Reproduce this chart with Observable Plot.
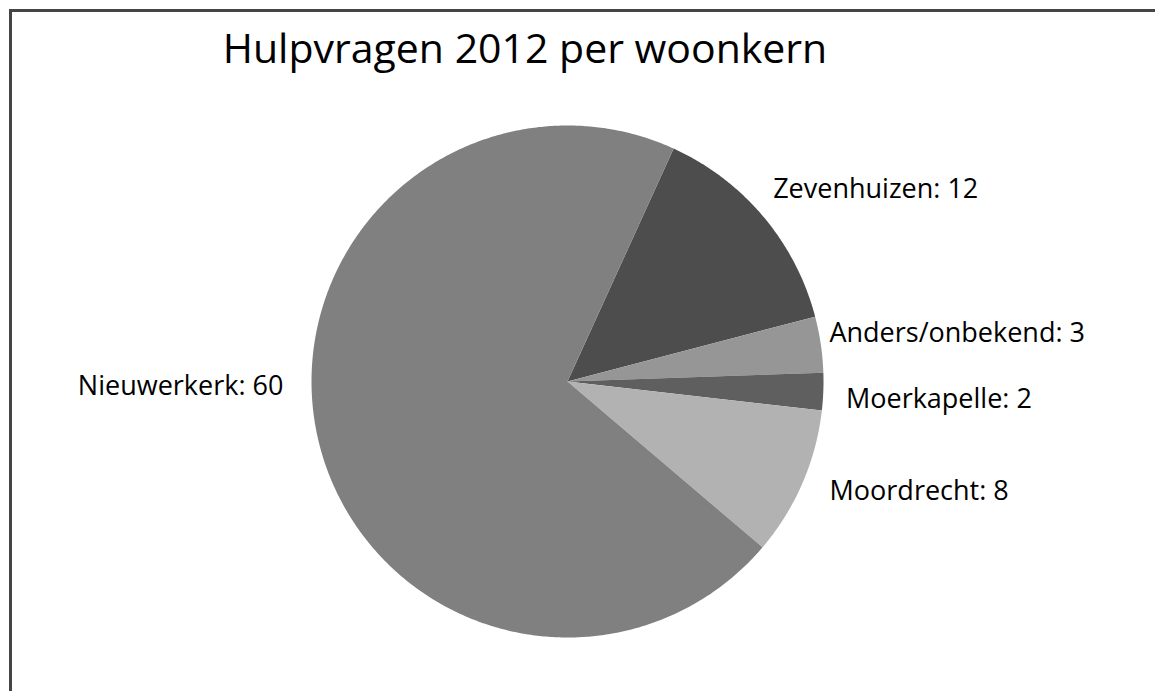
<!DOCTYPE html>
<html><head><meta charset="utf-8">
<script src="https://cdn.jsdelivr.net/npm/d3@7"></script>
<script src="https://cdn.jsdelivr.net/npm/@observablehq/plot@0.6"></script>
<style>
html,body{margin:0;padding:0;background:#fff;overflow:hidden;width:1155px;height:691px}
#wrap{position:relative;width:1155px;height:691px;overflow:hidden}
#btop{position:absolute;left:9px;top:9px;width:1146px;height:3px;background:#454545}
#bleft{position:absolute;left:9px;top:9px;width:3px;height:682px;background:#454545}
#title{position:absolute;left:0;top:19px;width:1050px;text-align:center;font-family:"Open Sans",sans-serif;font-size:41px;line-height:normal;color:#000;white-space:nowrap}
#chart{position:absolute;left:0;top:0}
</style></head>
<body>
<div id="wrap">
  <div id="btop"></div>
  <div id="bleft"></div>
  <div id="chart"></div>
  <div id="title">Hulpvragen 2012 per woonkern</div>
</div>
<script>
// Data (clockwise drawing order)
const names = ["Zevenhuizen", "Anders/onbekend", "Moerkapelle", "Moordrecht", "Nieuwerkerk"];
const values = [12, 3, 2, 8, 60];
const colors = ["#4d4d4d", "#969696", "#5f5f5f", "#b2b2b2", "#808080"];

// Layout / style
const startDeg = 24.5;
const labelLayout = {
  "Zevenhuizen": {shift: -3, r: 1.10},
  "Anders/onbekend": {shift: -2, r: 1.04},
  "Moerkapelle": {shift: 1.5, r: 1.09},
  "Moordrecht": {shift: -0.7, r: 1.11},
  "Nieuwerkerk": {shift: 11.5, r: 1.11}
};

const rad = Math.PI / 180;
const arcs = d3.pie().sort(null).startAngle(startDeg * rad).endAngle(startDeg * rad + 2 * Math.PI)(values);

const polyPts = [];
const labels = [];
arcs.forEach((a, i) => {
  const name = names[i];
  const n = Math.max(2, Math.ceil((a.endAngle - a.startAngle) / (0.5 * rad)));
  polyPts.push({name, x: 0, y: 0});
  for (let k = 0; k <= n; k++) {
    const t = a.startAngle + (a.endAngle - a.startAngle) * k / n;
    polyPts.push({name, x: Math.sin(t), y: Math.cos(t)});
  }
  polyPts.push({name, x: 0, y: 0});
  const L = labelLayout[name];
  const mid = (a.startAngle + a.endAngle) / 2 + L.shift * rad;
  labels.push({
    name, text: `${name}: ${values[i]}`,
    x: L.r * Math.sin(mid), y: L.r * Math.cos(mid),
    anchor: Math.sin(mid) >= 0 ? "start" : "end"
  });
});

const plot = Plot.plot({
  width: 1155,
  height: 691,
  marginLeft: 311,
  marginRight: 332,
  marginTop: 125,
  marginBottom: 54,
  x: {domain: [-1, 1], axis: null},
  y: {domain: [-1, 1], axis: null},
  color: {domain: names, range: colors},
  style: {fontFamily: "'Open Sans', sans-serif", background: "transparent", overflow: "visible"},
  marks: [
    Plot.line(polyPts, {x: "x", y: "y", z: "name", fill: "name", stroke: "none", curve: "linear"}),
    Plot.text(labels.filter(d => d.anchor === "start"), {x: "x", y: "y", text: "text", textAnchor: "start", fontSize: 27, fill: "#000"}),
    Plot.text(labels.filter(d => d.anchor === "end"), {x: "x", y: "y", text: "text", textAnchor: "end", fontSize: 27, fill: "#000"})
  ]
});
document.getElementById("chart").appendChild(plot);
</script>
</body></html>
